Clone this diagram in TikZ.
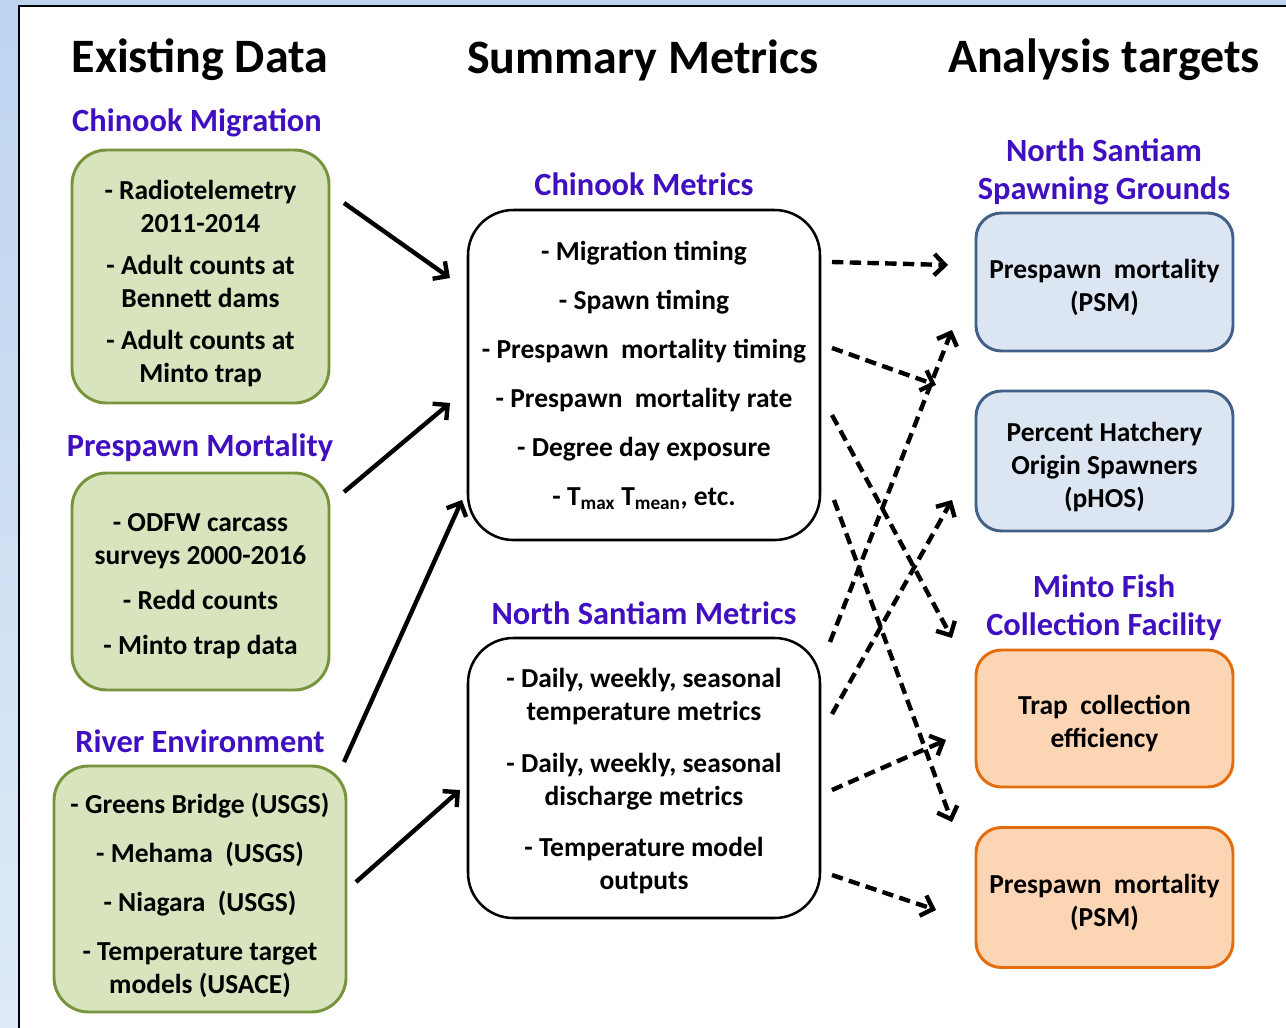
\documentclass[tikz,border=0pt]{standalone}
\usepackage{fontspec}
\setmainfont{Carlito}
\usetikzlibrary{arrows.meta}
\definecolor{hdrpurple}{RGB}{64,16,192}
\definecolor{grnfill}{RGB}{215,228,189}
\definecolor{grnline}{RGB}{119,147,60}
\definecolor{blufill}{RGB}{220,230,242}
\definecolor{bluline}{RGB}{65,95,135}
\definecolor{orgfill}{RGB}{252,213,181}
\definecolor{orgline}{RGB}{228,108,10}
\definecolor{bgtop}{RGB}{190,212,239}
\definecolor{bgbot}{RGB}{222,234,247}
\newcommand{\tpad}[1]{\rule{0pt}{#1}}% taller first line, pushes text down
\tikzset{
  title_t/.style = {inner sep=0pt, font=\fontsize{36}{40}\selectfont\bfseries},
  group_t/.style = {inner sep=0pt, align=center, text=hdrpurple,
    font=\fontsize{24.3}{28.5}\selectfont\bfseries},
  databox/.style = {rectangle, align=center, inner sep=0pt, line width=2.2pt,
    font=\fontsize{20.6}{24.75}\selectfont\bfseries},
  box_g/.style = {databox, fill=grnfill, draw=grnline, rounded corners=26pt},% existing data
  box_w/.style = {databox, fill=white, draw=black, line width=1.9pt,
    rounded corners=34pt},% summary metrics
  box_b/.style = {databox, fill=blufill, draw=bluline, rounded corners=19pt},% spawning grounds
  box_o/.style = {databox, fill=orgfill, draw=orgline, rounded corners=19pt},% minto facility
  arr/.style = {line width=3.3pt, -{Straight Barb[length=8pt,width=16pt]}},
  dash_arr/.style = {arr, dash pattern=on 8.5pt off 4.8pt}
}

\begin{document}
\begin{tikzpicture}[x=0.75pt, y=-0.75pt]
  \useasboundingbox (0,0) rectangle (1286,1028);
  \clip (0,0) rectangle (1286,1028);
  \shade[top color=bgtop, bottom color=bgbot] (0,0) rectangle (1286,1028);
  \draw[line width=2pt, fill=white] (19,6) rectangle (1300,1040);

  % column titles
  \node[title_t] (t_data) at (200,60) {Existing Data};
  \node[title_t] (t_sum) at (643,60) {Summary Metrics};
  \node[title_t] (t_ana) at (1104,60) {Analysis targets};

  % existing data
  \node[group_t] (g_mig) at (197,123) {Chinook Migration};
  \node[box_g, minimum width=192.75pt, minimum height=189.75pt] (mig) at (200.5,276.5)
    {\tpad{25pt}- Radiotelemetry\\ 2011-2014\\[6.75pt] - Adult counts at\\ Bennett dams\\[6.75pt]
     - Adult counts at\\ Minto trap};
  \node[group_t] (g_mort) at (200,448) {Prespawn Mortality};
  \node[box_g, minimum width=192.75pt, minimum height=162.75pt] (mort) at (200.5,581.5)
    {\tpad{21pt}- ODFW carcass\\ surveys 2000-2016\\[9pt] - Redd counts\\[9pt] - Minto trap data};
  \node[group_t] (g_riv) at (200,741) {River Environment};
  \node[box_g, minimum width=219pt, minimum height=184.5pt] (riv) at (200,889)
    {\tpad{24.5pt}- Greens Bridge (USGS)\\[12pt] - Mehama\ \ (USGS)\\[12pt]
     - Niagara\ \ (USGS)\\[12pt] - Temperature target\\ models (USACE)};

  % summary metrics
  \node[group_t] (g_chm) at (644,184) {Chinook Metrics};
  \node[box_w, minimum width=264pt, minimum height=247.5pt] (chm) at (644,375)
    {- Migration timing\\[12pt] - Spawn timing\\[12pt] - Prespawn\ \ mortality timing\\[12pt]
     - Prespawn\ \ mortality rate\\[12pt] - Degree day exposure\\[12pt]
     - T\textsubscript{max} T\textsubscript{mean}, etc.};
  \node[group_t] (g_nsm) at (644,613) {North Santiam Metrics};
  \node[box_w, minimum width=264pt, minimum height=210pt] (nsm) at (644,778)
    {\tpad{19pt}- Daily, weekly, seasonal\\ temperature metrics\\[14pt]
     - Daily, weekly, seasonal\\ discharge metrics\\[14pt] - Temperature model\\ outputs};

  % analysis targets
  \node[group_t] (g_spawn) at (1104,172) {North Santiam\\ Spawning Grounds};
  \node[box_b, minimum width=192.75pt, minimum height=103.5pt] (psm) at (1104.5,282)
    {\tpad{22pt}Prespawn\ \ mortality\\ (PSM)};
  \node[box_b, minimum width=192.75pt, minimum height=105pt] (phos) at (1104.5,461)
    {\tpad{23pt}Percent Hatchery\\ Origin Spawners\\ (pHOS)};
  \node[group_t] (g_minto) at (1104,608) {Minto Fish\\ Collection Facility};
  \node[box_o, minimum width=192.75pt, minimum height=102.75pt] (trap) at (1104.5,718.5)
    {\tpad{22pt}Trap\ \ collection\\ efficiency};
  \node[box_o, minimum width=192.75pt, minimum height=105pt] (mpsm) at (1104.5,897.5)
    {\tpad{22pt}Prespawn\ \ mortality\\ (PSM)};

  % arrow ends
  \coordinate (mig_o) at (344,203);   \coordinate (chm_i1) at (450,278);
  \coordinate (mort_o) at (344,492);  \coordinate (chm_i2) at (450,403);
  \coordinate (riv_o1) at (344,762);  \coordinate (chm_i3) at (462,500);
  \coordinate (riv_o2) at (356,882);  \coordinate (nsm_i) at (460,790);
  \coordinate (chm_o1) at (832,262);  \coordinate (psm_i1) at (948,265);
  \coordinate (chm_o2) at (832,348);  \coordinate (phos_i1) at (936,385);
  \coordinate (chm_o3) at (832,415);  \coordinate (trap_i1) at (952,638);
  \coordinate (chm_o4) at (834,500);  \coordinate (mpsm_i1) at (952,822);
  \coordinate (nsm_o1) at (830,642);  \coordinate (psm_i2) at (952,330);
  \coordinate (nsm_o2) at (832,714);  \coordinate (phos_i2) at (952,500);
  \coordinate (nsm_o3) at (832,790);  \coordinate (trap_i2) at (946,740);
  \coordinate (nsm_o4) at (832,875);  \coordinate (mpsm_i2) at (936,910);

  \foreach \a/\b in {mig_o/chm_i1, mort_o/chm_i2, riv_o1/chm_i3, riv_o2/nsm_i}
    \draw[arr] (\a) -- (\b);
  \foreach \a/\b in {chm_o1/psm_i1, chm_o2/phos_i1, chm_o3/trap_i1, chm_o4/mpsm_i1,
    nsm_o1/psm_i2, nsm_o2/phos_i2, nsm_o3/trap_i2, nsm_o4/mpsm_i2}
    \draw[dash_arr] (\a) -- (\b);
\end{tikzpicture}
\end{document}
